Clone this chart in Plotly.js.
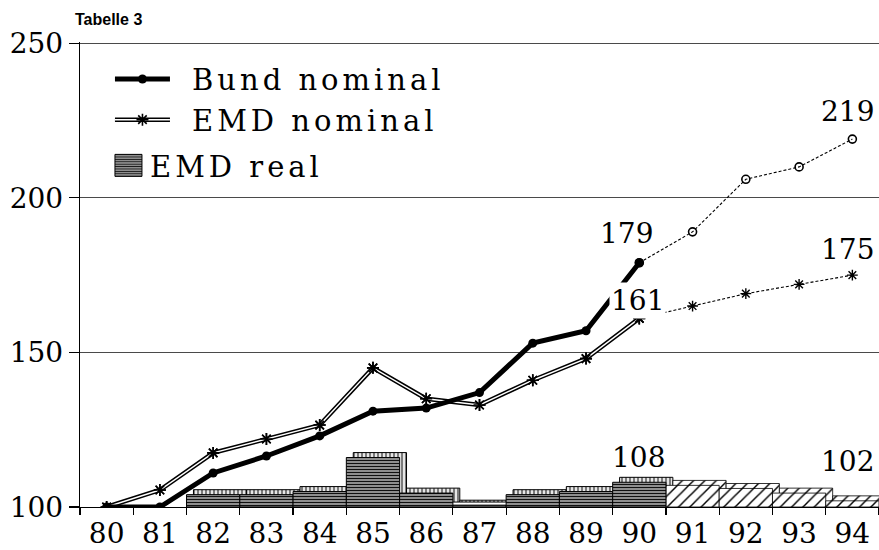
<!DOCTYPE html>
<html>
<head>
<meta charset="utf-8">
<script src="https://cdn.plot.ly/plotly-3.0.1.min.js"></script>
<style>
  html, body { margin: 0; padding: 0; background: #fff; }
  #chart { width: 879px; height: 550px; }
  .legend .legendtext { letter-spacing: 4px; }
</style>
</head>
<body>
<div id="chart"></div>
<script>
// ---- data ----
const years = ['80','81','82','83','84','85','86','87','88','89','90','91','92','93','94'];

const bundYears = ['80','81','82','83','84','85','86','87','88','89','90'];
const bundNominal = [100, 100, 111, 116.5, 123, 131, 132, 137, 153, 157, 179];
const bundProjYears = ['90','91','92','93','94'];
const bundProjection = [179, 189, 206, 210, 219];

const emdYears = ['80','81','82','83','84','85','86','87','88','89','90'];
const emdNominal = [100, 105.5, 117.5, 122, 126.5, 145, 135, 133, 141, 148, 161];
const emdProjYears = ['90','91','92','93','94'];
const emdProjection = [161, 165, 169, 172, 175];

const emdRealYears = ['80','81','82','83','84','85','86','87','88','89','90'];
const emdReal = [100, 100, 104, 104, 105, 116, 104.5, 100.6, 104, 105, 108];
const emdRealProjYears = ['91','92','93','94'];
const emdRealProjection = [107, 106, 104.5, 102];

const seriesNames = ['Bund nominal', 'EMD nominal', 'EMD real'];
const labelX = ['90', '90', '94', '94', '90', '94'];
const labelY = [179, 161, 219, 175, 108, 102];
const labelText = ['179', '161', '219', '175', '108', '102'];

// ---- styling ----
const SERIF = 'DejaVu Serif, serif';
const BASE = 100;
const DEPTH_Y = 1.6;     // visual depth of the 3D boxes (axis units)
const DEPTH_X = 0.13;    // visual depth (category fraction)

const heights = vals => vals.map(v => v > BASE ? v - BASE : null);

function barFront(xs, vals, proj, extra) {
  return Object.assign({
    type: 'bar', x: xs, y: heights(vals), base: BASE,
    width: 1.0, offset: -0.5,
    marker: proj ? {
      color: '#fff', line: {color: '#000', width: 0.8},
      pattern: {shape: '/', fgcolor: '#000', bgcolor: '#fff', size: 8, solidity: 0.18}
    } : {
      color: '#8c8c8c', line: {color: '#000', width: 1},
      pattern: {shape: '-', fgcolor: '#111', bgcolor: '#a8a8a8', size: 3, solidity: 0.45}
    },
    hoverinfo: 'x+y'
  }, extra);
}
function barBack(xs, vals, proj) {
  return {
    type: 'bar', x: xs, y: heights(vals), base: BASE + DEPTH_Y,
    width: 1.0, offset: -0.5 + DEPTH_X, showlegend: false, hoverinfo: 'skip',
    marker: proj ? {
      color: '#fff', line: {color: '#000', width: 0.8},
      pattern: {shape: '/', fgcolor: '#000', bgcolor: '#fff', size: 8, solidity: 0.18}
    } : {
      color: '#e6e6e6', line: {color: '#000', width: 1},
      pattern: {shape: '|', fgcolor: '#333', bgcolor: '#e6e6e6', size: 4, solidity: 0.3}
    }
  };
}

const traces = [
  barBack(emdRealYears, emdReal, false),
  barBack(emdRealProjYears, emdRealProjection, true),
  barFront(emdRealProjYears, emdRealProjection, true, {showlegend: false}),
  barFront(emdRealYears, emdReal, false, {name: seriesNames[2], legendrank: 3}),
  { // Bund projection
    type: 'scatter', mode: 'lines+markers', x: bundProjYears, y: bundProjection,
    showlegend: false,
    line: {color: '#000', width: 1.1, dash: '3px,2px'},
    marker: {symbol: 'circle-open', size: 8, color: '#000', line: {width: 1.6}}
  },
  { // EMD projection
    type: 'scatter', mode: 'lines+markers', x: emdProjYears, y: emdProjection,
    showlegend: false,
    line: {color: '#000', width: 1.1, dash: '3px,2px'},
    marker: {symbol: 'asterisk-open', size: 9, color: '#000', line: {width: 1.4}}
  },
  { // EMD nominal outer (double line)
    type: 'scatter', mode: 'lines+markers', x: emdYears, y: emdNominal,
    name: seriesNames[1], legendrank: 2,
    line: {color: '#000', width: 4.5},
    marker: {symbol: 'asterisk-open', size: 10, color: '#000', line: {width: 1.6}}
  },
  { // EMD nominal inner white
    type: 'scatter', mode: 'lines+markers', x: emdYears, y: emdNominal,
    showlegend: false,
    line: {color: '#fff', width: 1.4},
    marker: {symbol: 'asterisk-open', size: 10, color: '#000', line: {width: 1.6}}
  },
  { // Bund nominal
    type: 'scatter', mode: 'lines+markers', x: bundYears, y: bundNominal,
    name: seriesNames[0], legendrank: 1,
    line: {color: '#000', width: 5},
    marker: {symbol: 'circle', size: 9, color: '#000'}
  }
];

const shiftX = [-13, -2, -5, -5, -1, -5];
const shiftY = [29, 18, 28, 26, 25, 39];
const annotations = labelText.map((t, i) => ({
  x: years.indexOf(labelX[i]), y: labelY[i], xref: 'x', yref: 'y',
  text: t, showarrow: false,
  font: {family: SERIF, size: 28, color: '#000'},
  xshift: shiftX[i], yshift: shiftY[i],
  bgcolor: t === '161' ? '#ffffff' : 'rgba(0,0,0,0)', borderpad: 1
}));

const layout = {
  width: 879, height: 550,
  margin: {l: 80, r: 0, t: 42, b: 43, pad: 0},
  paper_bgcolor: '#fff', plot_bgcolor: '#fff',
  title: {
    text: '<b>Tabelle 3</b>', xref: 'container', yref: 'container',
    x: 75 / 879, xanchor: 'left', y: 1 - 19 / 550, yanchor: 'middle',
    font: {family: 'Liberation Sans, Arial, sans-serif', size: 16, color: '#000'}
  },
  barmode: 'overlay',
  showlegend: true,
  legend: {
    x: 0.04, y: 0.975, xanchor: 'left', yanchor: 'top',
    bgcolor: 'rgba(0,0,0,0)', borderwidth: 0,
    font: {family: SERIF, size: 29, color: '#000'},
    tracegroupgap: 0, itemwidth: 30
  },
  xaxis: {
    type: 'category', categoryorder: 'array', categoryarray: years,
    range: [-0.5, 14.5], tickson: 'boundaries',
    ticks: 'outside', ticklen: 7, tickcolor: '#000', tickwidth: 1.2,
    showline: true, linecolor: '#000', linewidth: 1,
    showgrid: false, zeroline: false,
    tickfont: {family: SERIF, size: 28, color: '#000'},
    ticklabelstandoff: 1, fixedrange: true
  },
  yaxis: {
    range: [100, 250.4], tickvals: [100, 150, 200, 250],
    ticks: 'outside', ticklen: 10, tickcolor: '#000', tickwidth: 1.2,
    showline: true, linecolor: '#000', linewidth: 1.2,
    showgrid: true, gridcolor: '#4a4a4a', gridwidth: 1,
    zeroline: false,
    tickfont: {family: SERIF, size: 28, color: '#000'},
    fixedrange: true
  },
  annotations: annotations
};

Plotly.newPlot('chart', traces, layout, {staticPlot: true, displayModeBar: false}).then(gd => {
  // legend symbols styled like the reference key
  gd.querySelectorAll('.legend .traces').forEach(t => {
    const txt = t.querySelector('.legendtext');
    if (!txt) return;
    const name = txt.textContent;
    if (name === seriesNames[0] || name === seriesNames[1]) {
      const p = t.querySelector('.legendlines path');
      if (p) {
        p.setAttribute('d', 'M3,0h55');
        if (name === seriesNames[1]) {
          const c = p.cloneNode(true);
          c.style.stroke = '#fff';
          c.style.strokeWidth = '1.4px';
          p.parentNode.appendChild(c);
        }
      }
      t.querySelectorAll('.legendpoints path').forEach(m => m.setAttribute('transform', 'translate(30.5,0)'));
      txt.setAttribute('x', 80);
    } else if (name === seriesNames[2]) {
      t.querySelectorAll('.legendpoints path').forEach(m => {
        m.setAttribute('d', 'M10,11H-17V-11H10Z');
      });
      txt.setAttribute('x', 38);
      const tr = t.getAttribute('transform') || '';
      const mm = tr.match(/translate\(([-\d.]+),\s*([-\d.]+)\)/);
      if (mm) t.setAttribute('transform', 'translate(' + mm[1] + ',' + (parseFloat(mm[2]) + 5) + ')');
    }
  });
  // the widened key must not be clipped by the legend box
  gd.querySelectorAll('.legend, .legend *').forEach(el => el.removeAttribute('clip-path'));
});
</script>
</body>
</html>
